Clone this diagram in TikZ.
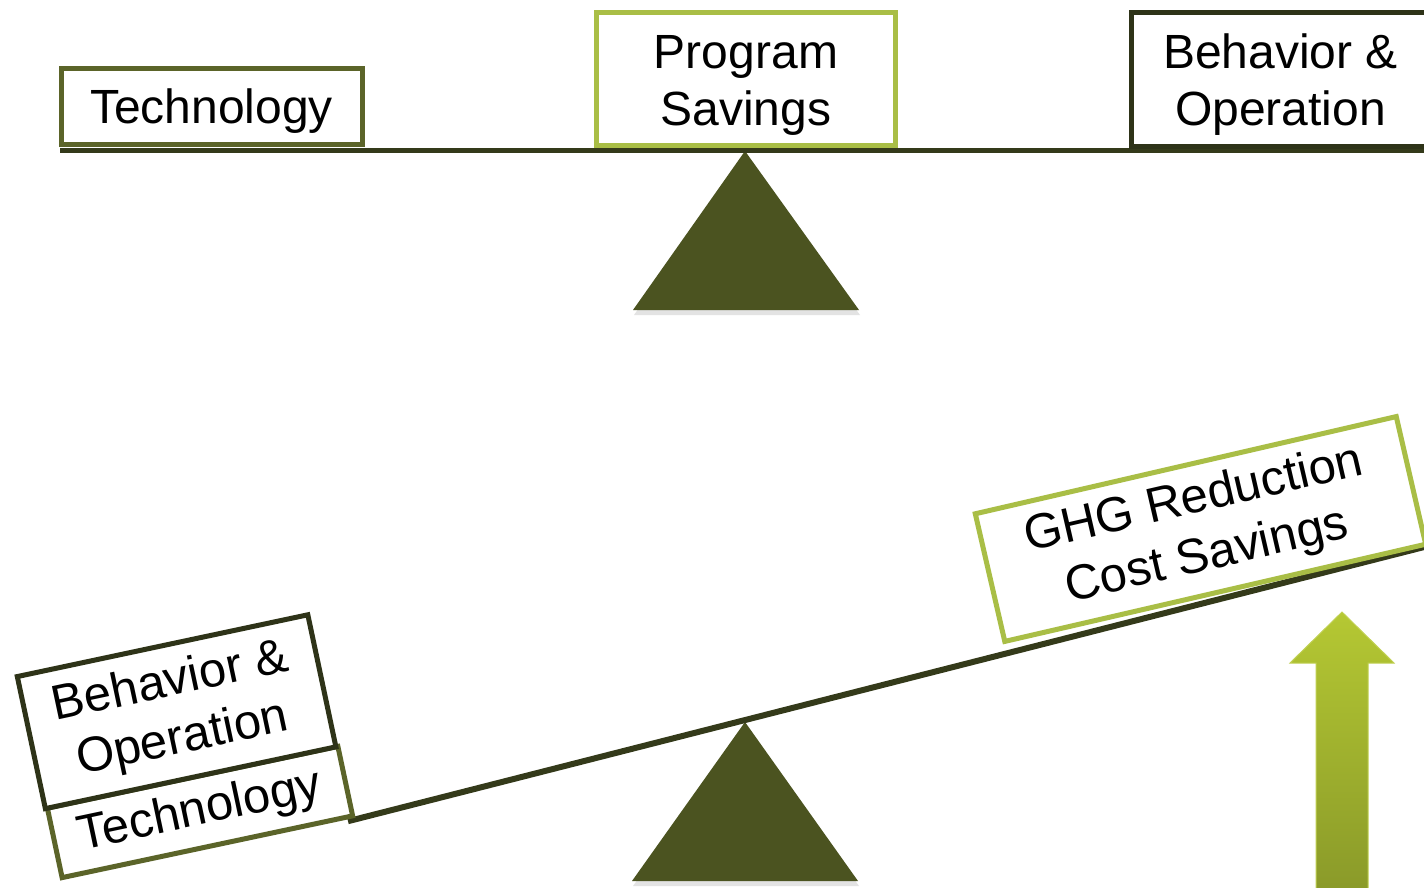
\documentclass[tikz,border=0pt]{standalone}
\usepackage{fontspec}
\setmainfont{Liberation Sans}
\usetikzlibrary{shadows}
\definecolor{beamc}{HTML}{343A1A}
\definecolor{tri}{HTML}{4B5320}
\definecolor{olivec}{HTML}{5B6429}
\definecolor{limec}{HTML}{A9BE46}
\definecolor{darkb}{HTML}{2E3318}
\definecolor{arrtop}{HTML}{B5C833}
\definecolor{arrbot}{HTML}{8A9A29}
\newcommand\mystrut{\rule{0pt}{45pt}}
\begin{document}
\begin{tikzpicture}[x=1pt,y=-1pt,
  box/.style={draw, line width=5pt, fill=white, inner sep=0pt, align=center,
    font=\fontsize{48}{57}\selectfont},
  pivot/.style={fill=tri, drop shadow={shadow xshift=1pt, shadow yshift=-5pt, opacity=0.22}},
  beam/.style={draw=beamc, line width=5pt}]
\useasboundingbox (0,0) rectangle (1424,887);
\clip (0,0) rectangle (1424,887);
\fill[white] (0,0) rectangle (1424,887);

% ---------- top balance ----------
\coordinate (tl) at (60,150);
\coordinate (tr) at (1432,150);
\path[pivot] (745,151) -- (859,310) -- (633,310) -- cycle;
\draw[beam] (tl) -- (tr);

\node[box, draw=olivec, minimum width=301pt, minimum height=76pt] (tech1) at (211.5,106) {\mystrut Technology};
\node[box, draw=limec, minimum width=299pt, minimum height=133pt] (prog) at (746,79) {\mystrut Program\\Savings};
\node[box, draw=darkb, minimum width=299pt, minimum height=134pt] (beh1) at (1280.5,79) {\mystrut Behavior \&\\Operation};

% ---------- bottom balance ----------
\coordinate (bl) at (348,821.2);
\coordinate (br) at (1432,545);
\path[pivot] (745,722) -- (858,881) -- (632,881) -- cycle;
\draw[beam, line width=6pt] (bl) -- (br);

\node[box, draw=olivec, rotate=12, minimum width=297pt, minimum height=71pt,
  font=\fontsize{49}{58}\selectfont] (tech2) at (200,812) {Technology};
\node[box, draw=darkb, rotate=12, minimum width=297pt, minimum height=135pt,
  font=\fontsize{49}{58}\selectfont] (beh2) at (176.6,711.7) {Behavior \&\\Operation};

\node[box, draw=limec, rotate=13, minimum width=432pt, minimum height=131pt,
  font=\fontsize{49}{58}\selectfont] (ghg) at (1200.5,529) {GHG Reduction\\Cost Savings};

% ---------- arrow ----------
\shade[top color=arrtop, bottom color=arrbot, draw=arrtop!85!white, line width=1pt]
  (1342,612) -- (1394,663) -- (1368,663) -- (1368,892) -- (1316,892) -- (1316,663) -- (1290,663) -- cycle;
\end{tikzpicture}
\end{document}
